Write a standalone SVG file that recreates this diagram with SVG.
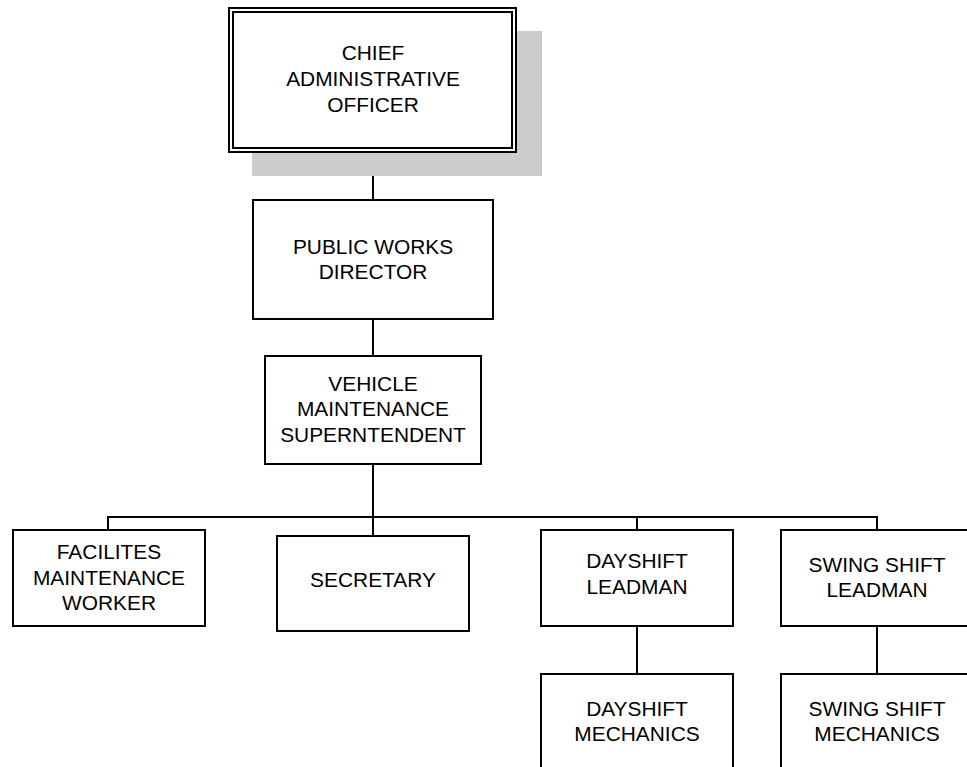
<svg xmlns="http://www.w3.org/2000/svg" width="967" height="767" viewBox="0 0 967 767">
<style>
.box{fill:#fff;stroke:#000;stroke-width:2}
.ln{fill:none;stroke:#000;stroke-width:2}
text{font-family:"Liberation Sans",Arial,sans-serif;font-size:20.9px;fill:#000;text-anchor:middle}
</style>
<rect width="967" height="767" fill="#fff"/>
<g id="connectors">
<line class="ln" x1="373" y1="152" x2="373" y2="200"/>
<line class="ln" x1="373" y1="319" x2="373" y2="356"/>
<line class="ln" x1="373" y1="464" x2="373" y2="536"/>
<polyline class="ln" points="108,530 108,517 877,517 877,530"/>
<line class="ln" x1="637" y1="517" x2="637" y2="530"/>
<line class="ln" x1="637" y1="626" x2="637" y2="674"/>
<line class="ln" x1="877" y1="626" x2="877" y2="674"/>
</g>
<g id="cao">
<rect x="252" y="31" width="290" height="145" fill="#cccccc"/>
<rect class="box" x="229" y="8" width="287" height="144"/>
<rect class="ln" x="233" y="12" width="279" height="136"/>
<text x="373" y="60">CHIEF</text>
<text x="373" y="86">ADMINISTRATIVE</text>
<text x="373" y="112">OFFICER</text>
</g>
<g id="pwd">
<rect class="box" x="253" y="200" width="240" height="119"/>
<text x="373" y="254">PUBLIC WORKS</text>
<text x="373" y="279">DIRECTOR</text>
</g>
<g id="vms">
<rect class="box" x="265" y="356" width="216" height="108"/>
<text x="373" y="391">VEHICLE</text>
<text x="373" y="416">MAINTENANCE</text>
<text x="373" y="441.5">SUPERNTENDENT</text>
</g>
<g id="fmw">
<rect class="box" x="13" y="530" width="192" height="96"/>
<text x="109" y="559">FACILITES</text>
<text x="109" y="585">MAINTENANCE</text>
<text x="109" y="610">WORKER</text>
</g>
<g id="secretary">
<rect class="box" x="277" y="536" width="192" height="95"/>
<text x="373" y="586.5">SECRETARY</text>
</g>
<g id="dsl">
<rect class="box" x="541" y="530" width="192" height="96"/>
<text x="637" y="568">DAYSHIFT</text>
<text x="637" y="594">LEADMAN</text>
</g>
<g id="ssl">
<rect class="box" x="781" y="530" width="192" height="96"/>
<text x="877" y="571.5">SWING SHIFT</text>
<text x="877" y="597">LEADMAN</text>
</g>
<g id="dsm">
<rect class="box" x="541" y="674" width="192" height="110"/>
<text x="637" y="716">DAYSHIFT</text>
<text x="637" y="740.5">MECHANICS</text>
</g>
<g id="ssm">
<rect class="box" x="781" y="674" width="192" height="110"/>
<text x="877" y="716">SWING SHIFT</text>
<text x="877" y="740.5">MECHANICS</text>
</g>
</svg>
